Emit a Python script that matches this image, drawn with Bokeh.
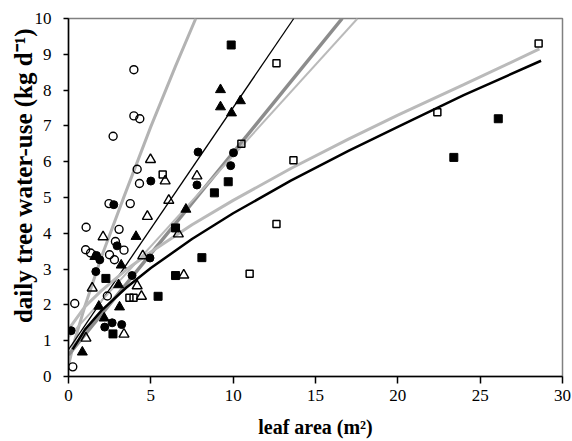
from bokeh.plotting import figure
from bokeh.models import Range1d, FixedTicker, Title
from bokeh.embed import file_html
from bokeh.resources import INLINE

# ---- data ----
open_circle_x = [3.97, 3.97, 4.33, 2.71, 4.17, 4.31, 2.46, 3.75, 1.07, 3.07, 2.85, 3.37, 1.04, 1.34, 2.49, 2.79, 2.36, 0.38, 0.26]
open_circle_y = [8.57, 7.28, 7.20, 6.71, 5.79, 5.39, 4.83, 4.83, 4.17, 4.11, 3.77, 3.53, 3.54, 3.45, 3.40, 3.26, 2.25, 2.04, 0.27]

filled_circle_x = [7.87, 10.02, 9.85, 5.00, 2.75, 4.95, 1.70, 1.90, 2.95, 3.86, 1.66, 3.23, 2.65, 2.20, 0.16, 7.80]
filled_circle_y = [6.27, 6.25, 5.89, 5.46, 4.80, 3.31, 3.38, 3.26, 3.65, 2.82, 2.93, 1.45, 1.50, 1.38, 1.28, 5.35]

filled_tri_x = [9.23, 9.23, 10.44, 9.90, 7.13, 4.10, 3.20, 3.10, 0.84, 1.60, 2.17, 3.04, 1.84]
filled_tri_y = [8.01, 7.53, 7.70, 7.36, 4.67, 3.91, 3.11, 1.94, 0.68, 3.35, 1.63, 2.56, 1.96]

open_tri_x = [4.98, 5.87, 7.80, 6.09, 4.79, 6.67, 2.10, 4.51, 7.00, 4.17, 4.43, 3.37, 1.44, 1.06]
open_tri_y = [6.06, 5.46, 5.60, 4.92, 4.47, 3.98, 3.90, 3.37, 2.83, 2.53, 2.24, 1.18, 2.47, 1.07]

filled_sq_x = [9.88, 26.10, 23.40, 9.70, 8.86, 6.50, 8.10, 6.50, 5.44, 2.27, 2.70]
filled_sq_y = [9.26, 7.20, 6.12, 5.44, 5.13, 4.15, 3.32, 2.82, 2.24, 2.74, 1.19]

open_sq_x = [28.55, 22.40, 12.63, 13.66, 10.50, 12.63, 11.00, 5.72, 3.70, 3.95]
open_sq_y = [9.30, 7.38, 8.75, 6.04, 6.50, 4.26, 2.87, 5.64, 2.20, 2.20]

# fitted lines, points
steep_gray_x = [0.0, 0.3, 1.0, 2.0, 3.4, 5.0, 6.5, 7.73]
steep_gray_y = [0.30, 0.89, 1.97, 3.34, 5.06, 6.98, 8.67, 10.0]

thin_black_x = [0.0, 13.68]
thin_black_y = [0.75, 10.0]

dark_gray_x = [0.0, 16.62]
dark_gray_y = [0.60, 10.0]

light_gray_x = [0.0, 17.55]
light_gray_y = [1.10, 10.0]

black_curve_x = [0.25, 1, 2, 3.5, 5, 7.5, 10, 13.5, 17, 20, 24, 28.7]
black_curve_y = [0.76, 1.31, 1.84, 2.48, 3.03, 3.84, 4.56, 5.47, 6.30, 6.97, 7.86, 8.82]

gray_curve_x = [0.1, 1, 2, 3.5, 5, 7.5, 10, 13.5, 17, 20, 24, 28.6]
gray_curve_y = [1.38, 1.95, 2.40, 2.98, 3.48, 4.24, 4.92, 5.81, 6.63, 7.30, 8.15, 9.15]

x_ticks = [0, 5, 10, 15, 20, 25, 30]
y_ticks = [0, 1, 2, 3, 4, 5, 6, 7, 8, 9, 10]

x_title = "leaf area (m²)"
y_title = "daily tree water-use (kg d⁻¹)"

# ---- figure ----
p = figure(width=571, height=440, output_backend="svg", toolbar_location=None,
           x_range=Range1d(0, 30), y_range=Range1d(0, 10),
           min_border_left=68, min_border_right=9, min_border_top=18, min_border_bottom=63)
p.background_fill_color = "white"
p.border_fill_color = "white"
p.outline_line_color = "#808080"
p.outline_line_width = 1.5
p.xgrid.visible = False
p.ygrid.visible = False

serif = "Liberation Serif"
for ax in (p.xaxis[0], p.yaxis[0]):
    ax.axis_line_color = "black"
    ax.axis_line_width = 1.5
    ax.major_tick_line_color = "black"
    ax.major_tick_line_width = 1.5
    ax.minor_tick_line_color = None
    ax.major_tick_in = 0
    ax.major_label_text_font = serif
    ax.major_label_text_font_size = "17px"
    ax.major_label_text_color = "black"
    ax.axis_label_text_font = serif
    ax.axis_label_text_font_style = "bold"
    ax.axis_label_text_color = "black"

p.xaxis[0].ticker = FixedTicker(ticks=x_ticks)
p.yaxis[0].ticker = FixedTicker(ticks=y_ticks)
p.xaxis[0].major_tick_out = 7
p.yaxis[0].major_tick_out = 5
p.xaxis[0].major_label_standoff = 6
p.yaxis[0].major_label_standoff = 12
p.yaxis[0].axis_label_standoff = -11
p.xaxis.axis_label = x_title
p.xaxis[0].axis_label_text_font_size = "20px"
p.xaxis[0].axis_label_standoff = 12

# y title, anchored near the top of the frame like the reference
ytitle = Title(text=y_title, align="right", offset=10, standoff=-10,
               text_font=serif, text_font_style="bold", text_font_size="25px",
               text_color="black")
p.add_layout(ytitle, "left")

# lines
p.line(steep_gray_x, steep_gray_y, line_color="#b3b3b3", line_width=3)
p.line(thin_black_x, thin_black_y, line_color="black", line_width=1.3)
p.line(dark_gray_x, dark_gray_y, line_color="#8c8c8c", line_width=3.5)
p.line(light_gray_x, light_gray_y, line_color="#bababa", line_width=2)
p.line(gray_curve_x, gray_curve_y, line_color="#bababa", line_width=3)
p.line(black_curve_x, black_curve_y, line_color="black", line_width=2.5)

# markers
p.scatter(open_circle_x, open_circle_y, marker="circle", size=8, fill_alpha=0,
          line_color="black", line_width=1.4)
p.scatter(filled_circle_x, filled_circle_y, marker="circle", size=8, fill_color="black",
          line_color="black")
p.scatter(open_tri_x, open_tri_y, marker="triangle", size=10, fill_alpha=0,
          line_color="black", line_width=1.4)
p.scatter(filled_tri_x, filled_tri_y, marker="triangle", size=10, fill_color="black",
          line_color="black")
p.scatter(open_sq_x, open_sq_y, marker="square", size=7, fill_alpha=0,
          line_color="black", line_width=1.5)
p.scatter(filled_sq_x, filled_sq_y, marker="square", size=8, fill_color="black",
          line_color="black")

open("out.html", "w").write(file_html(p, INLINE))
